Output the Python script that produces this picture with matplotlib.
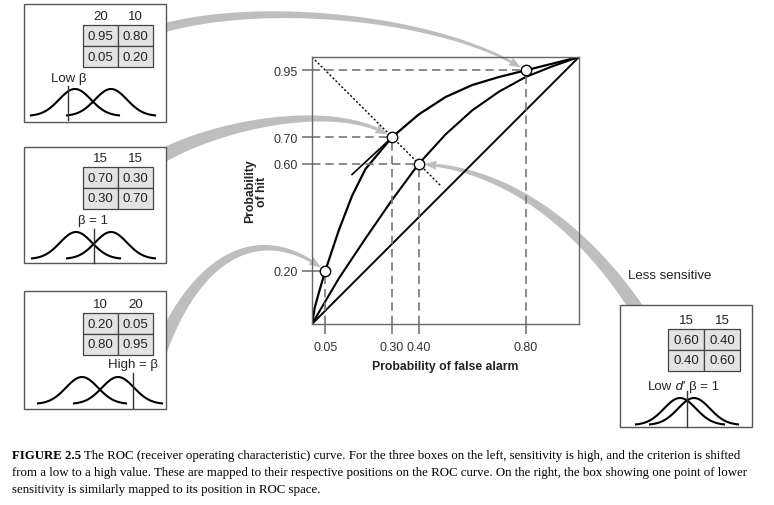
import numpy as np
import matplotlib
matplotlib.use("Agg")
import matplotlib.pyplot as plt
from matplotlib.patches import Rectangle, Polygon

plt.rcParams["font.family"] = ["Liberation Sans", "DejaVu Sans"]

# values shown in the four boxes (left three = high sensitivity, right = low)
fa_rate = [0.80, 0.30, 0.05, 0.40]
hit_rate = [0.95, 0.70, 0.20, 0.60]
miss_rate = [0.05, 0.30, 0.80, 0.40]
cr_rate = [0.20, 0.70, 0.95, 0.60]
payoffs = [("20", "10"), ("15", "15"), ("10", "20"), ("15", "15")]
box_labels = ["Low β", "β = 1", "High = β", None]

x_ticks = [0.05, 0.30, 0.40, 0.80]
y_ticks = [0.20, 0.60, 0.70, 0.95]

# ROC curves
high_fa = [0, 0.01, 0.025, 0.05, 0.1, 0.15, 0.2, 0.3, 0.4, 0.5, 0.6, 0.7, 0.8, 0.9, 1.0]
high_hit = [0, 0.06, 0.115, 0.2, 0.35, 0.48, 0.58, 0.70, 0.785, 0.85, 0.895, 0.925, 0.95, 0.975, 1.0]
low_fa = [0, 0.1, 0.2, 0.3, 0.4, 0.5, 0.6, 0.7, 0.8, 0.9, 1.0]
low_hit = [0, 0.17, 0.32, 0.465, 0.6, 0.71, 0.8, 0.87, 0.925, 0.965, 1.0]

W, H = 774, 506
fig = plt.figure(figsize=(W / 100, H / 100), dpi=100)

# overlay in pixel units for boxes, arrows and caption (drawn under the ROC axes)
ov = fig.add_axes([0, 0, 1, 1])
ov.set_xlim(0, W)
ov.set_ylim(H, 0)
ov.axis("off")

# main ROC axes
ax = fig.add_axes([312 / W, (H - 325) / H, 267 / W, 267 / H])
ax.patch.set_alpha(0)
ax.set_xlim(0, 1)
ax.set_ylim(0, 1)
for sp in ax.spines.values():
    sp.set_color("#666666")
    sp.set_linewidth(1.0)

ax.plot([0, 1], [0, 1], color="black", lw=1.4)
ax.plot(low_fa, low_hit, color="black", lw=1.5)
ax.plot(high_fa, high_hit, color="black", lw=1.6)
ax.plot([0.15, 0.29], [0.56, 0.69], color="black", lw=1.2)
ax.plot([0, 0.48], [1, 0.52], color="black", lw=1.0, ls=(0, (1.5, 1.5)))

dash_kw = dict(color="#777777", lw=1.2, ls=(0, (5, 3)))
for f, h in zip(fa_rate, hit_rate):
    ax.plot([0, f], [h, h], **dash_kw)
    ax.plot([f, f], [0, h], **dash_kw)
ax.plot(fa_rate, hit_rate, "o", ms=7.5, mfc="white", mec="black", mew=1.0, zorder=5)

ax.set_xticks(x_ticks)
ax.set_xticklabels([f"{v:.2f}" for v in x_ticks])
ax.set_yticks(y_ticks)
ax.set_yticklabels([f"{v:.2f}" for v in y_ticks])
ax.tick_params(direction="out", length=7, width=1.2, color="#777777", labelcolor="#333333",
               labelsize=9, pad=3)
ax.tick_params(axis="x", pad=5)

ax.set_xlabel("Probability of false alarm", fontsize=8.8, weight="bold", color="#222222")
ax.xaxis.set_label_coords(0.5, -0.135)
ax.set_ylabel("Probability\nof hit", fontsize=8.8, weight="bold", color="#222222", linespacing=1.0)
ax.yaxis.set_label_coords(-0.165, 0.5)

grey_arrow = "#bebebe"


def band_arrow(P0, C1, C2, target, w0, w1, head_len=11, head_w=9, gap=5.5):
    P0, C1, C2, T = [np.array(p, float) for p in (P0, C1, C2, target)]
    P3 = T - (T - C2) / np.hypot(*(T - C2)) * gap
    t = np.linspace(0, 1, 200)[:, None]
    c = (1 - t) ** 3 * P0 + 3 * (1 - t) ** 2 * t * C1 + 3 * (1 - t) * t ** 2 * C2 + t ** 3 * P3
    seg = np.r_[0, np.cumsum(np.hypot(*np.diff(c, axis=0).T))]
    keep = seg <= seg[-1] - head_len
    body = c[keep]
    s = seg[keep]
    d = np.gradient(body, axis=0)
    d /= np.hypot(d[:, 0], d[:, 1])[:, None]
    n = np.c_[-d[:, 1], d[:, 0]]
    w = np.interp(s, [0, s[-1]], [w0, w1])[:, None]
    poly = np.vstack([body + n * w / 2, (body - n * w / 2)[::-1]])
    ov.add_patch(Polygon(poly, closed=True, fc=grey_arrow, ec="none", zorder=1))
    base = body[-1]
    dirv = (P3 - base) / np.hypot(*(P3 - base))
    nb = np.array([-dirv[1], dirv[0]])
    ov.add_patch(Polygon([base + nb * head_w / 2, P3, base - nb * head_w / 2], closed=True,
                         fc=grey_arrow, ec="none", zorder=1))


def point_px(i):
    x, y = ax.transData.transform((fa_rate[i], hit_rate[i]))
    return x, H - y


# arrows from each box to its ROC point
t0 = point_px(0)
band_arrow((160, 30), (265, 0), (t0[0] - 85, t0[1] - 52), t0, 9, 2.5)
t1 = point_px(1)
band_arrow((160, 158), (220, 125), (t1[0] - 60, t1[1] - 35), t1, 14, 3)
t2 = point_px(2)
band_arrow((160, 352), (195, 262), (t2[0] - 70, t2[1] - 50), t2, 14, 3)
t3 = point_px(3)
band_arrow((640, 315), (615, 275), (t3[0] + 120, t3[1] + 8), t3, 14, 3)

# box layout: rect, table x-range, header y, table top, label (x, y, ha), bells (noise, signal, criterion, baseline), line top
layout = [
    dict(rect=(24, 5, 166, 123), tab=(83, 153), head=17, top=26, lab=(51, 79, "left"),
         bell=(75, 111, 68, 117), ltop=87),
    dict(rect=(24, 148, 166, 264), tab=(83, 153), head=159, top=168, lab=(93, 221, "center"),
         bell=(76, 111, 94, 260), ltop=230),
    dict(rect=(24, 292, 166, 410), tab=(83, 153), head=305, top=314, lab=(133, 365, "center"),
         bell=(82, 118, 133, 405), ltop=374),
    dict(rect=(620, 306, 752, 428), tab=(668, 740), head=321, top=330, lab=(648, 386, "left"),
         bell=(680, 694, 687, 426), ltop=392),
]

fs_box = 9.5
row_h = 21
for i, lay in enumerate(layout):
    x0, y0, x1, y1 = lay["rect"]
    ov.add_patch(Rectangle((x0, y0), x1 - x0, y1 - y0, fc="white", ec="#555555", lw=1.0, zorder=3))
    tx0, tx1 = lay["tab"]
    cw = (tx1 - tx0) / 2
    cells = [[hit_rate[i], fa_rate[i]], [miss_rate[i], cr_rate[i]]]
    for c in range(2):
        ov.text(tx0 + cw * (c + 0.5), lay["head"], payoffs[i][c], ha="center", va="center",
                fontsize=fs_box, color="#222222", zorder=5)
        for r in range(2):
            ov.add_patch(Rectangle((tx0 + c * cw, lay["top"] + r * row_h), cw, row_h,
                                   fc="#e3e3e3", ec="#444444", lw=0.9, zorder=4))
            ov.text(tx0 + cw * (c + 0.5), lay["top"] + (r + 0.5) * row_h, f"{cells[r][c]:.2f}",
                    ha="center", va="center", fontsize=fs_box, color="#222222", zorder=5)
    lx, ly, lha = lay["lab"]
    if box_labels[i] is not None:
        ov.text(lx, ly, box_labels[i], ha=lha, va="center", fontsize=fs_box, color="#222222", zorder=5)
    else:
        a = ov.text(lx, ly + 4, "Low", ha="left", va="baseline", fontsize=fs_box, color="#222222", zorder=5)
        b = ov.annotate(" d", xy=(1, 0), xycoords=a, ha="left", va="bottom", fontsize=fs_box,
                        style="italic", color="#222222", zorder=5)
        ov.annotate("′ β = 1", xy=(1, 0), xycoords=b, ha="left", va="bottom", fontsize=fs_box,
                    color="#222222", zorder=5)
    mu_n, mu_s, crit, base = lay["bell"]
    for mu in (mu_n, mu_s):
        xx = np.linspace(mu - 44, mu + 44, 120)
        ov.plot(xx, base - 27 * np.exp(-0.5 * ((xx - mu) / 16) ** 2), color="black", lw=1.5, zorder=5)
    ov.plot([crit, crit], [lay["ltop"], min(base + 4, y1)], color="#333333", lw=1.0, zorder=5)

ov.text(628, 276, "Less sensitive", ha="left", va="center", fontsize=9.5, color="#222222")

# caption
cap_font = "Liberation Serif"
cap_size = 9.3
c0 = ov.text(12, 459, "FIGURE 2.5", fontsize=cap_size, family=cap_font, weight="bold", va="baseline")
ov.annotate(" The ROC (receiver operating characteristic) curve. For the three boxes on the left, "
            "sensitivity is high, and the criterion is shifted",
            xy=(1, 0), xycoords=c0, va="bottom", ha="left", fontsize=cap_size, family=cap_font)
ov.text(12, 476, "from a low to a high value. These are mapped to their respective positions on the ROC "
        "curve. On the right, the box showing one point of lower",
        fontsize=cap_size, family=cap_font, va="baseline")
ov.text(12, 493, "sensitivity is similarly mapped to its position in ROC space.",
        fontsize=cap_size, family=cap_font, va="baseline")

fig.savefig("out.png", dpi=100)
